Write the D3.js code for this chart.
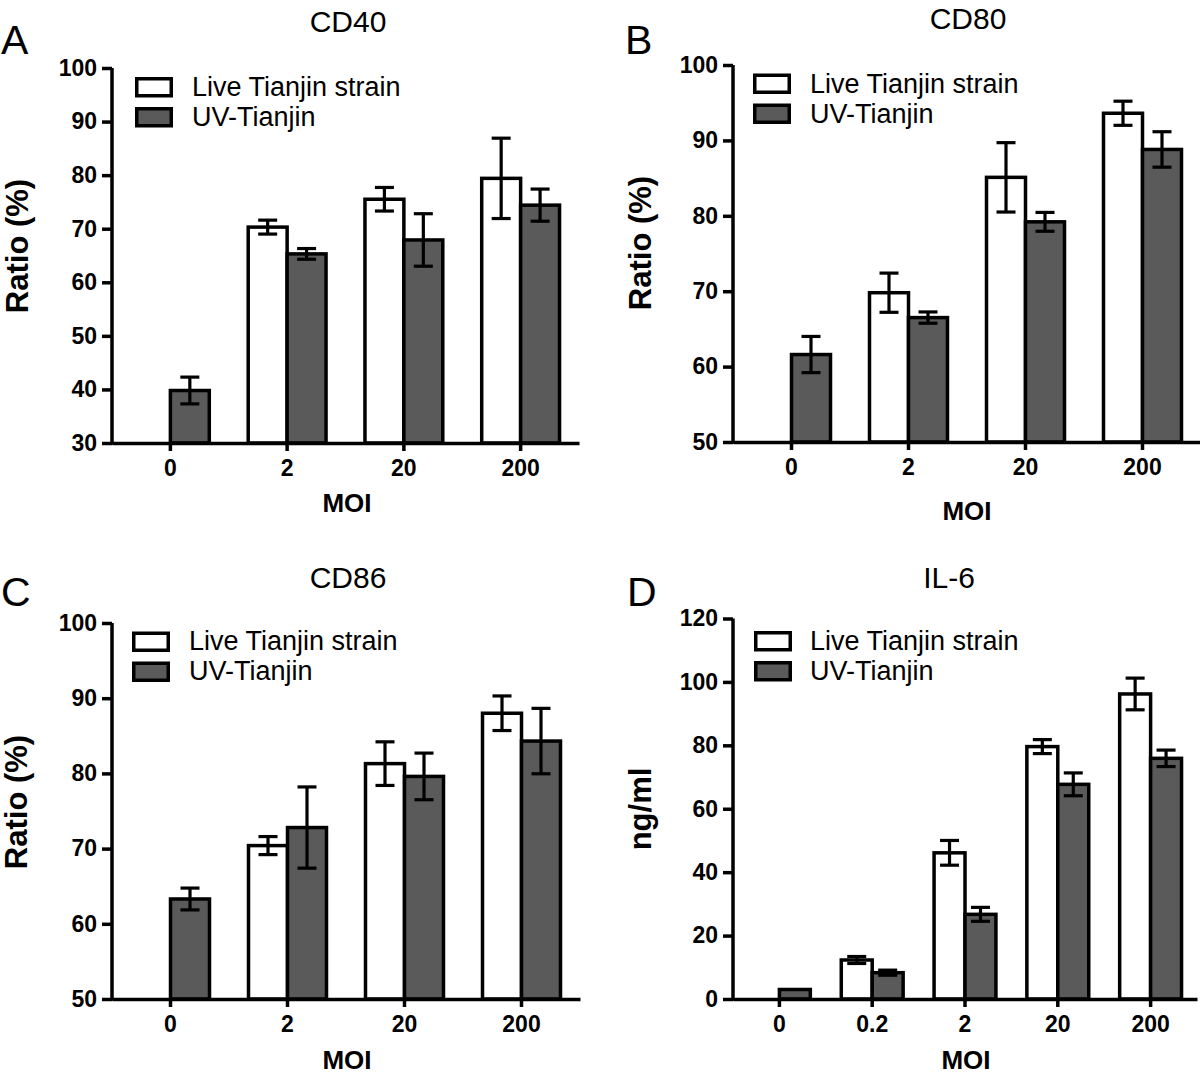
<!DOCTYPE html>
<html>
<head>
<meta charset="utf-8">
<script src="https://cdn.jsdelivr.net/npm/d3@7"></script>
<style>
  html, body { margin: 0; padding: 0; background: #fff; }
  svg { display: block; font-family: "Liberation Sans", Arial, Helvetica, sans-serif; }
</style>
</head>
<body>
<svg id="chart" width="1200" height="1077"></svg>
<script>
// ---------------- data ----------------
const moi4 = ["0", "2", "20", "200"];
const moi5 = ["0", "0.2", "2", "20", "200"];
const seriesNames = ["Live Tianjin strain", "UV-Tianjin"];

const ratioTicks80 = [50, 60, 70, 80, 90, 100];
const ratioTicks40 = [30, 40, 50, 60, 70, 80, 90, 100];
const il6Ticks = [0, 20, 40, 60, 80, 100, 120];

const cd40Live    = [null, 70.3, 75.5, 79.4];
const cd40LiveErr = [null, 1.3, 2.2, 7.5];
const cd40UV      = [39.8, 65.3, 67.9, 74.4];
const cd40UVErr   = [2.5, 1.0, 4.9, 3.0];

const cd80Live    = [null, 69.8, 85.1, 93.6];
const cd80LiveErr = [null, 2.6, 4.6, 1.6];
const cd80UV      = [61.6, 66.5, 79.2, 88.8];
const cd80UVErr   = [2.4, 0.75, 1.25, 2.35];

const cd86Live    = [null, 70.4, 81.3, 88.0];
const cd86LiveErr = [null, 1.2, 2.9, 2.3];
const cd86UV      = [63.3, 72.8, 79.6, 84.3];
const cd86UVErr   = [1.45, 5.4, 3.1, 4.35];

const il6Live     = [null, 12.3, 46.1, 79.6, 96.2];
const il6LiveErr  = [null, 1.1, 3.9, 2.2, 5.0];
const il6UV       = [3.0, 8.3, 26.7, 67.7, 75.9];
const il6UVErr    = [0, 0.8, 2.2, 3.6, 2.6];

// ---------------- layout ----------------
const svg = d3.select("#chart");
const DARK = "#5a5a5a";

const panels = [
  { letter: "A", title: "CD40", ylabel: "Ratio (%)", cats: moi4, domain: [30, 100], ticks: ratioTicks40,
    live: cd40Live, liveErr: cd40LiveErr, uv: cd40UV, uvErr: cd40UVErr,
    x0: 112, x1: 579, yTop: 68, yBot: 443,
    letterX: 1, letterY: 54, titleX: 348, titleY: 32,
    ylabX: 28, ylabY: 246, moiX: 347, moiY: 512,
    legX: 135, legY: 77, legTextX: 192, legBase: 96 },
  { letter: "B", title: "CD80", ylabel: "Ratio (%)", cats: moi4, domain: [50, 100], ticks: ratioTicks80,
    live: cd80Live, liveErr: cd80LiveErr, uv: cd80UV, uvErr: cd80UVErr,
    x0: 733, x1: 1201, yTop: 65, yBot: 442,
    letterX: 625, letterY: 54, titleX: 968, titleY: 29,
    ylabX: 651, ylabY: 243, moiX: 967, moiY: 520,
    legX: 753, legY: 73.5, legTextX: 810, legBase: 93 },
  { letter: "C", title: "CD86", ylabel: "Ratio (%)", cats: moi4, domain: [50, 100], ticks: ratioTicks80,
    live: cd86Live, liveErr: cd86LiveErr, uv: cd86UV, uvErr: cd86UVErr,
    x0: 112, x1: 580, yTop: 623, yBot: 999,
    letterX: 1, letterY: 606, titleX: 348, titleY: 588,
    ylabX: 27, ylabY: 802, moiX: 347, moiY: 1069,
    legX: 132, legY: 631.5, legTextX: 189, legBase: 650 },
  { letter: "D", title: "IL-6", ylabel: "ng/ml", cats: moi5, domain: [0, 120], ticks: il6Ticks,
    live: il6Live, liveErr: il6LiveErr, uv: il6UV, uvErr: il6UVErr,
    x0: 733, x1: 1197, yTop: 618.5, yBot: 999,
    letterX: 627, letterY: 606, titleX: 949, titleY: 588,
    ylabX: 651, ylabY: 809, moiX: 966, moiY: 1069,
    legX: 754, legY: 631, legTextX: 810, legBase: 650 }
];

panels.forEach(drawPanel);

function drawPanel(p) {
  const g = svg.append("g");
  const x = d3.scaleBand().domain(p.cats).range([p.x0, p.x1]).padding(0);
  const y = d3.scaleLinear().domain(p.domain).range([p.yBot, p.yTop]);
  const w = x.bandwidth() / 3;
  const cap = 19;

  const rows = p.cats.map((c, i) => ({ c, i }));

  // bars
  const bars = [];
  rows.forEach(r => {
    if (p.live[r.i] != null) bars.push({ c: r.c, v: p.live[r.i], e: p.liveErr[r.i], off: -w, fill: "#fff" });
    if (p.uv[r.i] != null) bars.push({ c: r.c, v: p.uv[r.i], e: p.uvErr[r.i], off: 0, fill: DARK });
  });

  g.selectAll("rect.bar").data(bars).join("rect")
    .attr("class", "bar")
    .attr("x", d => x(d.c) + x.bandwidth() / 2 + d.off)
    .attr("width", w)
    .attr("y", d => y(d.v))
    .attr("height", d => y(p.domain[0]) - y(d.v))
    .attr("fill", d => d.fill)
    .attr("stroke", "#000")
    .attr("stroke-width", 3.5);

  // error bars
  const eb = bars.filter(d => d.e && d.e > 0);
  const cx = d => x(d.c) + x.bandwidth() / 2 + d.off + w / 2;
  const eg = g.selectAll("g.err").data(eb).join("g").attr("class", "err")
    .attr("stroke", "#000").attr("stroke-width", 3.2);
  eg.append("line")
    .attr("x1", cx).attr("x2", cx)
    .attr("y1", d => y(d.v + d.e)).attr("y2", d => y(d.v - d.e));
  eg.append("line")
    .attr("x1", d => cx(d) - cap / 2).attr("x2", d => cx(d) + cap / 2)
    .attr("y1", d => y(d.v + d.e)).attr("y2", d => y(d.v + d.e));
  eg.append("line")
    .attr("x1", d => cx(d) - cap / 2).attr("x2", d => cx(d) + cap / 2)
    .attr("y1", d => y(d.v - d.e)).attr("y2", d => y(d.v - d.e));

  // axes
  const ya = g.append("g").attr("transform", `translate(${p.x0},0)`)
    .call(d3.axisLeft(y).tickValues(p.ticks).tickSize(10).tickSizeOuter(0).tickPadding(5).tickFormat(d3.format("d")));
  const xa = g.append("g").attr("transform", `translate(0,${p.yBot})`)
    .call(d3.axisBottom(x).tickSize(8).tickSizeOuter(0).tickPadding(9));
  [ya, xa].forEach(a => {
    a.select(".domain").attr("stroke", "#000").attr("stroke-width", 3.5);
    a.selectAll(".tick line").attr("stroke", "#000").attr("stroke-width", 3.5);
    a.selectAll(".tick text").attr("fill", "#000")
      .style("font-family", '"Liberation Sans", Arial, sans-serif')
      .style("font-weight", "bold").style("font-size", "23px");
  });
  // extend y-axis line to cover the x-axis corner
  ya.select(".domain").attr("d", `M0,${y(p.domain[0]) + 1.75}V${y(p.domain[1])}`);

  // title
  g.append("text").attr("x", p.titleX).attr("y", p.titleY)
    .attr("text-anchor", "middle").style("font-size", "30px").text(p.title);
  // panel letter
  g.append("text").attr("x", p.letterX).attr("y", p.letterY)
    .style("font-size", "41px").text(p.letter);
  // y label
  g.append("text").attr("transform", `translate(${p.ylabX},${p.ylabY}) rotate(-90)`)
    .attr("text-anchor", "middle").style("font-size", "31px").style("font-weight", "bold").text(p.ylabel);
  // x label
  g.append("text").attr("x", p.moiX).attr("y", p.moiY)
    .attr("text-anchor", "middle").style("font-size", "26px").style("font-weight", "bold").text("MOI");

  // legend
  const lg = g.append("g");
  seriesNames.forEach((name, i) => {
    lg.append("rect")
      .attr("x", p.legX + 1.75).attr("y", p.legY + 1.75 + i * 30)
      .attr("width", 34.5).attr("height", 17)
      .attr("fill", i === 0 ? "#fff" : DARK)
      .attr("stroke", "#000").attr("stroke-width", 3.5);
    lg.append("text").attr("x", p.legTextX).attr("y", p.legBase + i * 29.5)
      .style("font-size", "27px").text(name);
  });
}
</script>
</body>
</html>
